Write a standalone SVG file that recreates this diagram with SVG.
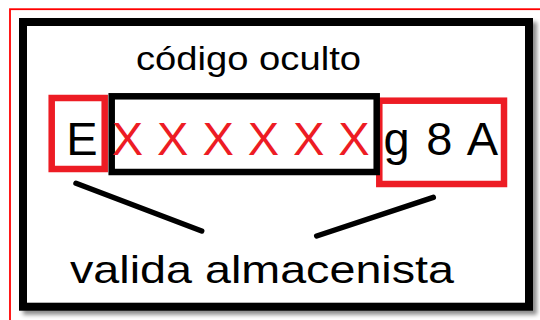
<svg xmlns="http://www.w3.org/2000/svg" width="540" height="320" viewBox="0 0 540 320">
<defs>
<filter id="sh" x="-5%" y="-5%" width="115%" height="115%">
<feDropShadow dx="4" dy="4" stdDeviation="2" flood-color="#000" flood-opacity="0.45"/>
</filter>
<style>
.t{font-family:"Liberation Sans",Arial,sans-serif;fill:#000}
.big{font-size:47px}
.x{fill:#ed1c24;text-anchor:middle}
.m{text-anchor:middle}
.rb{fill:none;stroke:#ed1c24;stroke-width:6.5}
.bb{fill:none;stroke:#000;stroke-width:6.5}
.ln{stroke:#000;stroke-width:5.5;stroke-linecap:round;fill:none}
</style>
</defs>
<rect width="540" height="320" fill="#fff"/>
<rect x="10" y="9.2" width="540" height="330" fill="none" stroke="#ff0000" stroke-width="1.8"/>
<g id="frame">
<rect x="23" y="22" width="506" height="284.7" fill="#fff" stroke="#000" stroke-width="8" filter="url(#sh)"/>
</g>
<g id="title">
<text class="t" x="136" y="69.7" font-size="34" textLength="225" lengthAdjust="spacingAndGlyphs">código oculto</text>
</g>
<g id="prefix">
<rect class="rb" x="51.7" y="98" width="53" height="71"/>
<text class="t big m" x="82" y="154.5">E</text>
</g>
<g id="suffix">
<rect class="rb" x="379.3" y="100.7" width="124.7" height="83.3"/>
<text class="t big m" x="396.5" y="154.5">g</text>
<text class="t big m" x="439.2" y="154.5">8</text>
<text class="t big m" x="482.5" y="154.5">A</text>
</g>
<g id="hidden">
<rect class="bb" x="111.7" y="96.3" width="265" height="75.7"/>
<text class="t big x" x="127.5" y="154.5">X</text>
<text class="t big x" x="172.8" y="154.5">X</text>
<text class="t big x" x="218.1" y="154.5">X</text>
<text class="t big x" x="263.4" y="154.5">X</text>
<text class="t big x" x="308.7" y="154.5">X</text>
<text class="t big x" x="354" y="154.5">X</text>
</g>
<g id="connectors">
<line class="ln" x1="76" y1="183.3" x2="201.7" y2="231"/>
<line class="ln" x1="316.7" y1="236" x2="433.3" y2="197.3"/>
</g>
<g id="label">
<text class="t" x="70" y="283" font-size="39" textLength="384" lengthAdjust="spacingAndGlyphs">valida almacenista</text>
</g>
</svg>
